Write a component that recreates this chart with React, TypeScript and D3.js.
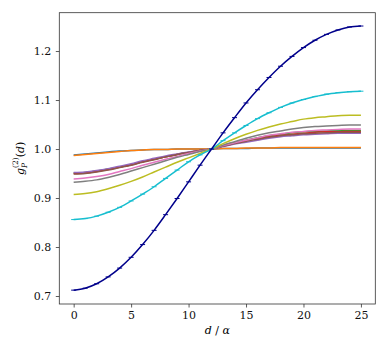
import React, { useEffect, useRef } from 'react'
import * as d3 from 'd3'

// chart size (matches the reference picture)
const width = 384,
      height = 354,
      margin = { left: 59.3, right: 8.7, top: 12.7, bottom: 50 }

const distances = [0, 1, 2, 3, 4, 5, 6, 7, 8, 9, 10, 11, 12, 13, 14, 15, 16, 17, 18, 19, 20, 21, 22, 23, 24, 25]
const xTicks = [0, 5, 10, 15, 20, 25]
const yTicks = [0.7, 0.8, 0.9, 1.0, 1.1, 1.2]

// g_P^(2)(d), one array per curve
const gBlue = [0.988, 0.990, 0.992, 0.994, 0.996, 0.997, 0.998, 0.999, 0.999, 1.000, 1.000, 1.000, 1.000, 1.001, 1.001, 1.001, 1.002, 1.002, 1.002, 1.002, 1.002, 1.002, 1.002, 1.002, 1.002, 1.002]
const gOrange = [0.987, 0.989, 0.991, 0.993, 0.995, 0.997, 0.998, 0.999, 0.999, 1.000, 1.000, 1.000, 1.000, 1.001, 1.001, 1.002, 1.002, 1.002, 1.003, 1.003, 1.003, 1.003, 1.003, 1.003, 1.003, 1.003]
const gGreen = [0.951, 0.952, 0.955, 0.959, 0.963, 0.968, 0.974, 0.979, 0.984, 0.989, 0.993, 0.997, 1.000, 1.006, 1.012, 1.018, 1.023, 1.027, 1.030, 1.033, 1.035, 1.036, 1.037, 1.038, 1.038, 1.038]
const gRed = [0.950, 0.951, 0.954, 0.958, 0.963, 0.968, 0.974, 0.979, 0.984, 0.989, 0.993, 0.997, 1.000, 1.006, 1.012, 1.017, 1.021, 1.025, 1.028, 1.030, 1.032, 1.034, 1.035, 1.035, 1.036, 1.036]
const gPurple = [0.952, 0.953, 0.956, 0.960, 0.965, 0.970, 0.976, 0.981, 0.986, 0.990, 0.994, 0.997, 1.000, 1.005, 1.010, 1.014, 1.018, 1.022, 1.025, 1.027, 1.029, 1.030, 1.031, 1.032, 1.032, 1.032]
const gBrown = [0.949, 0.950, 0.953, 0.957, 0.962, 0.967, 0.973, 0.978, 0.984, 0.989, 0.993, 0.997, 1.000, 1.006, 1.011, 1.016, 1.020, 1.024, 1.027, 1.029, 1.031, 1.032, 1.033, 1.034, 1.034, 1.034]
const gPink = [0.939, 0.941, 0.944, 0.948, 0.954, 0.960, 0.967, 0.973, 0.979, 0.985, 0.991, 0.996, 1.000, 1.007, 1.013, 1.018, 1.023, 1.028, 1.031, 1.034, 1.036, 1.038, 1.039, 1.040, 1.041, 1.041]
const gGray = [0.932, 0.934, 0.937, 0.942, 0.948, 0.955, 0.962, 0.969, 0.976, 0.983, 0.989, 0.995, 1.000, 1.008, 1.015, 1.022, 1.028, 1.033, 1.037, 1.041, 1.044, 1.046, 1.047, 1.048, 1.049, 1.049]
const gOlive = [0.907, 0.909, 0.913, 0.919, 0.926, 0.934, 0.943, 0.953, 0.963, 0.973, 0.982, 0.991, 1.000, 1.011, 1.021, 1.030, 1.038, 1.045, 1.051, 1.056, 1.061, 1.064, 1.066, 1.068, 1.069, 1.069]
const gCyan = [0.856, 0.858, 0.863, 0.871, 0.881, 0.894, 0.908, 0.923, 0.940, 0.957, 0.974, 0.988, 1.000, 1.017, 1.033, 1.048, 1.062, 1.074, 1.085, 1.094, 1.101, 1.107, 1.112, 1.115, 1.117, 1.118]
const gNavy = [0.712, 0.716, 0.725, 0.739, 0.757, 0.779, 0.805, 0.834, 0.866, 0.899, 0.933, 0.967, 1.000, 1.033, 1.064, 1.094, 1.121, 1.146, 1.169, 1.189, 1.207, 1.222, 1.234, 1.243, 1.249, 1.251]

const series = [
  { values: gBlue, color: '#1f77b4', caps: false },
  { values: gOrange, color: '#ff7f0e', caps: false },
  { values: gGreen, color: '#2ca02c', caps: false },
  { values: gRed, color: '#d62728', caps: false },
  { values: gPurple, color: '#9467bd', caps: false },
  { values: gBrown, color: '#8c564b', caps: false },
  { values: gPink, color: '#e377c2', caps: false },
  { values: gGray, color: '#7f7f7f', caps: false },
  { values: gOlive, color: '#bcbd22', caps: false },
  { values: gCyan, color: '#17becf', caps: true },
  { values: gNavy, color: '#00008b', caps: true },
]

const font = '"DejaVu Serif", serif'

export default function App () {
  const ref = useRef<SVGSVGElement>(null)

  useEffect(() => {
    const svg = d3.select(ref.current)
    svg.selectAll('*').remove()

    const xScale = d3.scaleLinear()
                     .domain([-1.25, 26.25])
                     .range([margin.left, width - margin.right])
    const yScale = d3.scaleLinear()
                     .domain([0.6837, 1.2782])
                     .range([height - margin.bottom, margin.top])

    const line = d3.line<number>()
                   .x((d, i) => xScale(distances[i]))
                   .y(d => yScale(d))
                   .curve(d3.curveMonotoneX)

    const plot = svg.append('g')
    series.forEach(s => {
      plot.append('path')
          .attr('d', line(s.values))
          .attr('fill', 'none')
          .attr('stroke', s.color)
          .attr('stroke-width', 1.5)
      if (s.caps) {
        // little error-bar caps at each point
        plot.selectAll(null)
            .data(s.values).enter()
            .append('line')
            .attr('x1', (d, i) => xScale(distances[i]) - 2.5)
            .attr('x2', (d, i) => xScale(distances[i]) + 2.5)
            .attr('y1', d => yScale(d))
            .attr('y2', d => yScale(d))
            .attr('stroke', s.color)
            .attr('stroke-width', 1)
      }
    })

    // axes
    const xAxis = d3.axisBottom(xScale).tickValues(xTicks).tickFormat(d3.format('d')).tickSizeOuter(0).tickSize(3.5).tickPadding(3.5)
    const yAxis = d3.axisLeft(yScale).tickValues(yTicks).tickFormat(d3.format('.1f')).tickSizeOuter(0).tickSize(3.5).tickPadding(4.5)

    const gx = svg.append('g')
                  .attr('transform', `translate(0, ${height - margin.bottom})`)
                  .call(xAxis)
    const gy = svg.append('g')
                  .attr('transform', `translate(${margin.left}, 0)`)
                  .call(yAxis)
    ;[gx, gy].forEach(g => {
      g.select('.domain').remove()
      g.selectAll('line').attr('stroke', '#333').attr('stroke-width', 0.8)
      g.selectAll('text').attr('font-family', font).attr('font-size', 11).attr('fill', '#111')
    })

    // frame
    svg.append('rect')
       .attr('x', margin.left)
       .attr('y', margin.top)
       .attr('width', width - margin.right - margin.left)
       .attr('height', height - margin.bottom - margin.top)
       .attr('fill', 'none')
       .attr('stroke', '#333')
       .attr('stroke-width', 0.8)

    // x label
    const xl = svg.append('text')
                  .attr('x', (margin.left + width - margin.right) / 2)
                  .attr('y', 334)
                  .attr('text-anchor', 'middle')
                  .attr('font-family', font)
                  .attr('font-size', 11)
    xl.append('tspan').attr('font-style', 'italic').text('d')
    xl.append('tspan').text(' / ')
    xl.append('tspan').attr('font-style', 'italic').text('α')

    // y label
    const yl = svg.append('text')
                  .attr('transform', `translate(24, ${(margin.top + height - margin.bottom) / 2}) rotate(-90)`)
                  .attr('text-anchor', 'middle')
                  .attr('font-family', font)
                  .attr('font-size', 11)
    yl.append('tspan').attr('font-style', 'italic').text('g')
    yl.append('tspan').attr('font-style', 'italic').attr('font-size', 7.5).attr('dy', 3).text('P')
    yl.append('tspan').attr('font-size', 7.5).attr('dx', -5).attr('dy', -9).text('(2)')
    yl.append('tspan').attr('dy', 6).text('(')
    yl.append('tspan').attr('font-style', 'italic').text('d')
    yl.append('tspan').text(')')
  }, [])

  return (
    <svg ref={ref} width={width} height={height}
         style={{ position: 'absolute', left: 0, top: 0, background: '#fff' }} />
  )
}
